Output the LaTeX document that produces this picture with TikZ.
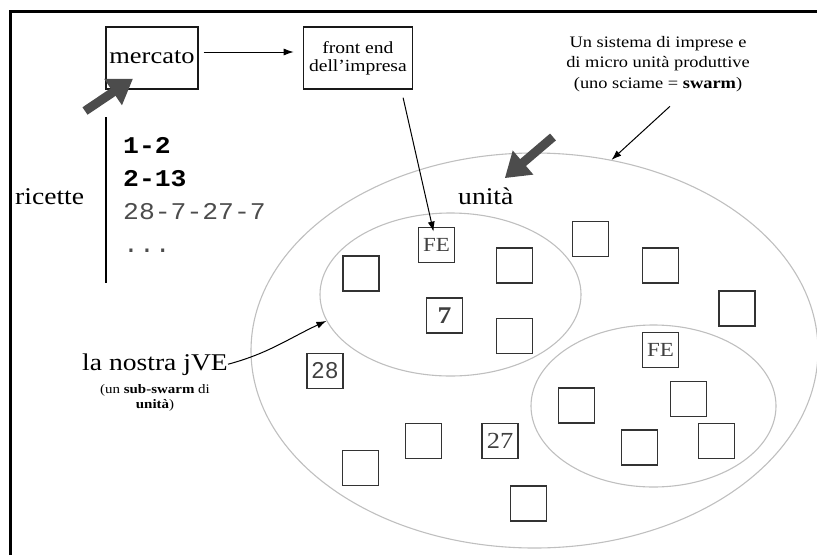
\documentclass[tikz,border=0pt]{standalone}
\usepackage{fontspec}
\setmainfont[FakeStretch=1.15]{Liberation Serif}
\setmonofont[FakeStretch=1.1]{Liberation Mono}
\setsansfont{Liberation Sans}
\usetikzlibrary{positioning}
\usetikzlibrary{arrows,arrows.meta}
\usetikzlibrary{shapes.geometric}
\tikzset{unit/.style={draw=black!80, line width=1.8pt, minimum width=36pt, minimum height=35pt, inner sep=0pt,
font=\fontsize{20}{20}\selectfont, text=black!75},
swarmring/.style={ellipse, draw=black!25, line width=1.1pt, inner sep=0pt},
frontbox/.style={draw=black!90, line width=1.4pt, inner sep=0pt},
bigarrow/.style={draw=black!70, line width=9pt, -{Triangle[length=24pt,width=30pt]}},
thinarrow/.style={line width=1pt, -{Latex[length=10pt,width=7pt]}}}

\begin{document}
\begin{tikzpicture}[x=1pt, y=-1pt, recipe/.style={anchor=base west, inner sep=0pt, font=\fontsize{24}{26}\ttfamily}]
	\useasboundingbox (0,0) rectangle (817,555);
	\draw[line width=3pt] (10.5,555) -- (10.5,11.5) -- (817,11.5);

	\node[swarmring, minimum width=567pt, minimum height=395pt] (swarm) at (534.5,350.5) {};
	\node[swarmring, minimum width=261pt, minimum height=163pt] (jve) at (450.5,294.5) {};
	\node[swarmring, minimum width=245pt, minimum height=162pt] (subswarm) at (653.5,406) {};

	\node[frontbox, minimum width=92pt, minimum height=62pt, text height=20pt, text depth=10pt,
		font=\fontsize{23}{26}\selectfont] (mercato) at (152,58) {mercato};
	\node[frontbox, minimum width=109pt, minimum height=62pt, align=center,
		font=\fontsize{17}{18}\selectfont, right=104pt of mercato] (frontend) {front end\\dell'impresa};

	\node[anchor=base west, inner sep=0pt, font=\fontsize{24}{26}\selectfont] (ricette) at (15,204) {ricette};
	\node[recipe, font=\fontsize{24}{26}\ttfamily\bfseries] (r1) at (123,153) {1-2};
	\node[recipe, font=\fontsize{24}{26}\ttfamily\bfseries] (r2) at (123,186) {2-13};
	\node[recipe, text=black!70] (r3) at (123,219) {28-7-27-7};
	\node[recipe, text=black!70] (r4) at (123,252) {...};
	\draw[line width=1.4pt] (106,117) -- (106,283);

	\node[anchor=base west, inner sep=0pt, font=\fontsize{24}{26}\selectfont] (unita) at (458,204) {unità};
	\node[align=center, font=\fontsize{16}{20.5}\selectfont] (swarmtxt) at (658,64)
		{Un sistema di imprese e\\di micro unità produttive\\(uno sciame = \textbf{swarm})};

	\node[anchor=base west, inner sep=0pt, font=\fontsize{24}{26}\selectfont] (nostra) at (82,370) {la nostra jVE};
	\node[below=9pt of nostra, inner sep=0pt, align=center, font=\fontsize{13}{15}\selectfont] (nostrasub)
		{(un \textbf{sub-swarm} di\\\textbf{unità})};

	\node[unit] (fe1) at (436.5,245) {FE};
	\node[unit] (u2) at (514.5,265.5) {};
	\node[unit] (u3) at (590.5,239) {};
	\node[unit] (u4) at (660.5,265.5) {};
	\node[unit] (u5) at (737,308.5) {};
	\node[unit] (u6) at (361,273.5) {};
	\node[unit, font=\fontsize{24}{24}\selectfont\bfseries] (u7) at (444.5,315.5) {7};
	\node[unit] (u8) at (514.5,336) {};
	\node[unit] (fe2) at (660.5,350) {FE};
	\node[unit] (u10) at (576.5,405.5) {};
	\node[unit] (u11) at (688.5,399) {};
	\node[unit] (u12) at (639.5,447.5) {};
	\node[unit] (u13) at (716.5,441) {};
	\node[unit] (u14) at (423.5,441) {};
	\node[unit, font=\fontsize{23}{23}\selectfont] (u27) at (500,441) {27};
	\node[unit] (u16) at (528.5,503.5) {};
	\node[unit, font=\fontsize{23}{23}\sffamily] (u28) at (325,371) {2\kern1pt8};
	\node[unit] (u18) at (360.5,468) {};

	\coordinate (mkttail) at (85,111);
	\coordinate (unitatail) at (553,137);
	\draw[bigarrow] (mkttail) -- ([xshift=-19pt,yshift=11pt]mercato.south);
	\draw[bigarrow] (unitatail) -- ([xshift=19pt,yshift=9pt]unita.north);

	\draw[thinarrow] ([yshift=6pt,xshift=5pt]mercato.east) -- ([yshift=6pt,xshift=-9pt]frontend.west);
	\draw[thinarrow] ([xshift=-10pt,yshift=-8pt]frontend.south east) -- ([xshift=-3pt,yshift=-5pt]fe1.north);
	\draw[thinarrow] ([xshift=12pt,yshift=-11pt]swarmtxt.south) -- (swarm.68);
	\draw[thinarrow] (nostra.east) to[out=15,in=205] (jve.192);
\end{tikzpicture}
\end{document}
